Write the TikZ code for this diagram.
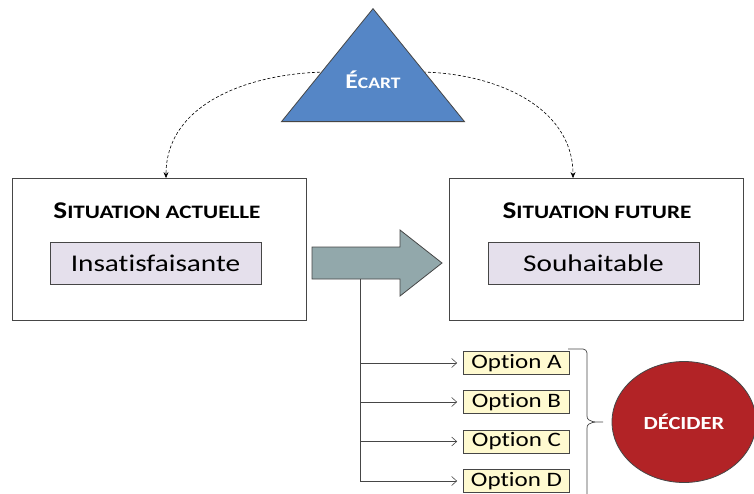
\documentclass[tikz,border=0pt]{standalone}
\usepackage{fontspec}
\setmainfont[FakeStretch=1.22, Ligatures=CommonOff]{Carlito}
\usetikzlibrary{arrows.meta,shapes.geometric}

\definecolor{ecartblue}{RGB}{85,134,198}
\definecolor{arrowgray}{RGB}{146,168,171}
\definecolor{lavender}{RGB}{229,224,236}
\definecolor{optyellow}{RGB}{255,250,208}
\definecolor{decidered}{RGB}{178,35,38}
\definecolor{edgegray}{RGB}{70,70,70}

% fake small caps: large initial, smaller capitals after it
\newcommand{\bigsmall}[4]{{\fontsize{#1}{#1}\selectfont #3}{\fontsize{#2}{#1}\selectfont #4}}

\tikzset{
  sitbox/.style={draw=edgegray, line width=0.8pt, minimum width=294pt, minimum height=142pt, inner sep=0pt},
  statebox/.style={draw=edgegray, line width=0.8pt, fill=lavender, minimum width=211pt, minimum height=42pt,
                   inner sep=0pt, font=\fontsize{24}{26}\selectfont},
  optbox/.style={draw=edgegray, line width=0.8pt, fill=optyellow, minimum width=106pt, minimum height=23pt,
                 inner sep=0pt, font=\fontsize{20.5}{22}\selectfont},
  gap/.style={densely dashed, line width=0.6pt, -{Stealth[length=6pt,width=5pt]}},
  branch/.style={draw=edgegray, line width=0.6pt, -{Straight Barb[length=5pt,width=9pt]}},
}

\begin{document}
\begin{tikzpicture}[x=1pt,y=-1pt]
\useasboundingbox (0,0) rectangle (754,493);

% the two situations
\node[sitbox] (actuelle) at (159,249.5) {};
\node[sitbox] (future) at (596.5,249.5) {};
\node[font=\bfseries] (tact) at (157,211) {\bigsmall{24}{19}{S}{ITUATION ACTUELLE}};
\node[font=\bfseries] (tfut) at (597,211) {\bigsmall{24}{19}{S}{ITUATION FUTURE}};
\node[statebox] (insat) at (155.5,263) {Insatisfaisante};
\node[statebox] (souh) at (593.5,263.5) {Souhaitable};

% gap curves towards both situations (drawn under the triangle)
\coordinate (gl) at (330,72);
\coordinate (gr) at (418,72);
\draw[gap] (gl) to[out=180,in=90] (actuelle.north -| 166,0);
\draw[gap] (gr) to[out=0,in=90] (future.north -| 573,0);

% gap triangle
\node[draw=edgegray, line width=0.8pt, fill=ecartblue, isosceles triangle, shape border rotate=90,
      isosceles triangle apex angle=78, minimum height=113pt, minimum width=183pt, inner sep=0pt,
      anchor=apex] (ecart) at (373,8) {};
\node[text=white, font=\bfseries] (ecartlbl) at (373,80) {\bigsmall{21}{16}{É}{CART}};

% transition arrow
\path[draw=edgegray, line width=0.8pt, fill=arrowgray]
  (312,247) -- (400,247) -- (400,230) -- (442,263) -- (400,296) -- (400,279) -- (312,279) -- cycle;
\coordinate (stem) at (360,279);

% options
\node[optbox] (oa) at (516.5,363) {Option A};
\node[optbox] (ob) at (516.5,402) {Option B};
\node[optbox] (oc) at (516.5,441.5) {Option C};
\node[optbox] (od) at (516.5,481) {Option D};

\coordinate (sd) at (360,481);
\draw[draw=edgegray, line width=0.6pt] (stem) -- (sd);
\foreach \o in {oa,ob,oc,od}
  \draw[branch] (stem |- \o.west) -- ([xshift=-6pt]\o.west);

% brace gathering the options
\draw[edgegray, line width=0.7pt]
  (568,349) -- (583,349) to[out=0,in=90] (587,353) -- (587,416)
  to[out=-90,in=180] (603,422) to[out=180,in=90] (587,428) -- (587,500);

% decision
\node[draw=edgegray, line width=0.8pt, fill=decidered, ellipse, minimum width=144pt, minimum height=121pt,
      inner sep=0pt, text=white, font=\bfseries\fontsize{18.5}{20}\selectfont] (decider) at (684,422) {DÉCIDER};
\end{tikzpicture}
\end{document}
